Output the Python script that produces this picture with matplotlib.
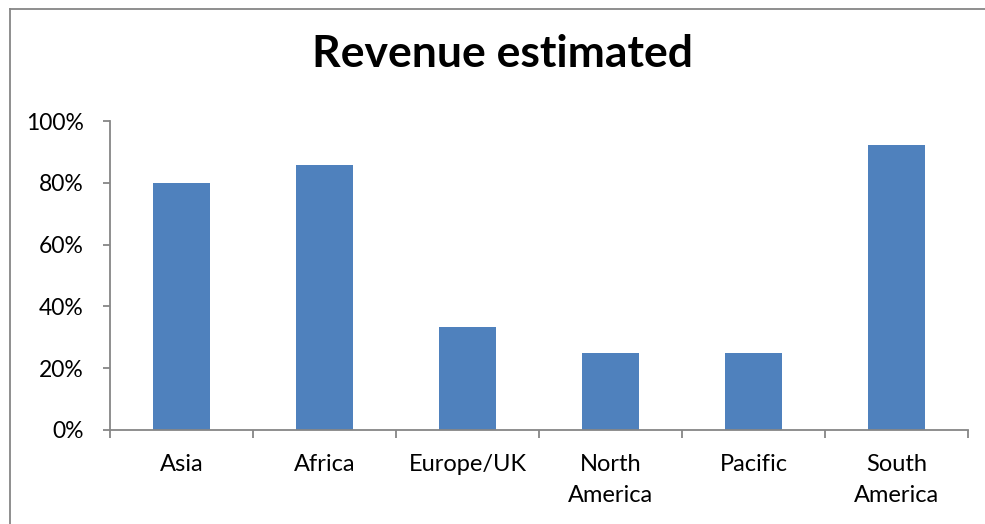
import matplotlib
matplotlib.use("Agg")
import matplotlib.pyplot as plt
from matplotlib.lines import Line2D
from matplotlib.ticker import PercentFormatter, FixedLocator

regions = ["Asia", "Africa", "Europe/UK", "North\nAmerica", "Pacific", "South\nAmerica"]
revenue_share = [0.80, 0.857, 0.333, 0.25, 0.25, 0.923]
y_ticks = [0, 0.2, 0.4, 0.6, 0.8, 1.0]

W, H = 985, 524
fig = plt.figure(figsize=(W / 100, H / 100), dpi=100)
fig.patch.set_facecolor("white")

axis_grey = "#868686"
bar_blue = "#4F81BD"
font = ["Lato", "DejaVu Sans"]

ax = fig.add_axes([110 / W, 1 - 430 / H, (968 - 110) / W, (430 - 121) / H])
x = list(range(len(regions)))
ax.bar(x, revenue_share, width=0.4, color=bar_blue, zorder=2)

ax.set_xlim(-0.5, len(regions) - 0.5)
ax.set_ylim(0, 1.0)

for side in ("top", "right"):
    ax.spines[side].set_visible(False)
for side in ("left", "bottom"):
    ax.spines[side].set_color(axis_grey)
    ax.spines[side].set_linewidth(1.3)

ax.set_yticks(y_ticks)
ax.yaxis.set_major_formatter(PercentFormatter(1.0, decimals=0))
ax.tick_params(axis="y", direction="out", length=5, width=1.3, color=axis_grey,
               pad=14, labelsize=16.5, labelcolor="black")

ax.set_xticks(x)
ax.set_xticklabels(regions, fontfamily=font, fontsize=17, linespacing=1.55)
ax.tick_params(axis="x", which="major", length=0, pad=17.5, labelcolor="black")
ax.xaxis.set_minor_locator(FixedLocator([i - 0.5 for i in range(len(regions) + 1)]))
ax.tick_params(axis="x", which="minor", direction="out", length=6, width=1.3, color=axis_grey)

for lab in ax.get_yticklabels():
    lab.set_fontfamily(font)
for lab in ax.get_xticklabels():
    lab.set_verticalalignment("top")

fig.text(503 / W, 1 - 67 / H, "Revenue estimated", ha="center", va="baseline",
         fontsize=32, fontweight="bold", fontfamily=font, color="black")

# chart-area frame (left and top edges)
fig.add_artist(Line2D([9.5 / W, 9.5 / W], [0, 1 - 8.5 / H], transform=fig.transFigure,
                      color=axis_grey, linewidth=1.3))
fig.add_artist(Line2D([9.5 / W, 1.0], [1 - 8.5 / H, 1 - 8.5 / H], transform=fig.transFigure,
                      color=axis_grey, linewidth=1.3))

fig.savefig("out.png", dpi=100)
